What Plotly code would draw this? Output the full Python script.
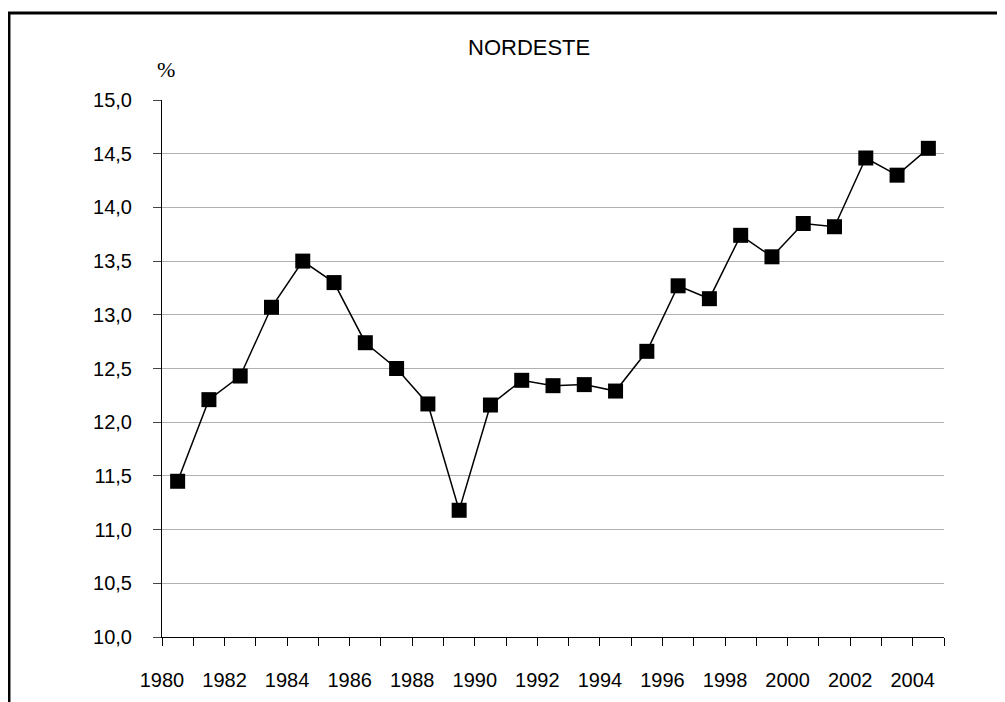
"""NORDESTE: série anual em %, 1980-2004 (Plotly, saída out.html)."""

import plotly.graph_objects as go

# dados
years = list(range(1980, 2005))
values = [
    11.45, 12.21, 12.43, 13.07, 13.50, 13.30, 12.74, 12.50, 12.17, 11.18,
    12.16, 12.39, 12.34, 12.35, 12.29, 12.66, 13.27, 13.15, 13.74, 13.54,
    13.85, 13.82, 14.46, 14.30, 14.55,
]
tick_years = list(range(1980, 2006))
tick_text = [str(y) if (y % 2 == 0 and y <= 2004) else "" for y in tick_years]
y_ticks = [10.0, 10.5, 11.0, 11.5, 12.0, 12.5, 13.0, 13.5, 14.0, 14.5, 15.0]

TXT = "Liberation Sans, Arial, sans-serif"

# pontos no centro de cada categoria (ano + 0,5)
x_pts = [y + 0.5 for y in years]

fig = go.Figure()
fig.add_trace(
    go.Scatter(
        x=x_pts,
        y=values,
        mode="lines+markers",
        line=dict(color="black", width=1.5),
        marker=dict(symbol="square", size=15, color="black"),
        showlegend=False,
        hoverinfo="x+y",
    )
)

# o body da página tem 8px de margem: figura 997x694
fig.update_layout(
    width=997,
    height=694,
    margin=dict(l=154, r=61, t=92, b=65),
    paper_bgcolor="white",
    plot_bgcolor="white",
    separators=",.",
    font=dict(family=TXT, size=20, color="black"),
    xaxis=dict(
        range=[1980, 2005],
        tickmode="array",
        tickvals=tick_years,
        ticktext=tick_text,
        ticks="outside",
        ticklen=8,
        tickcolor="black",
        tickwidth=1,
        showgrid=False,
        zeroline=False,
        showline=True,
        linecolor="black",
        linewidth=1,
        ticklabelstandoff=17,
        tickfont=dict(family=TXT, size=20),
    ),
    yaxis=dict(
        range=[10, 15],
        tickmode="array",
        tickvals=y_ticks,
        tickformat=".1f",
        ticks="outside",
        ticklen=8,
        tickcolor="#444444",
        tickwidth=1,
        showgrid=True,
        gridcolor="#b0b0b0",
        gridwidth=1,
        zeroline=False,
        showline=True,
        linecolor="black",
        linewidth=1,
        ticklabelstandoff=17,
        tickfont=dict(family=TXT, size=20),
    ),
    annotations=[
        dict(
            text="NORDESTE",
            xref="paper", yref="paper",
            x=0.469, y=1.097,
            xanchor="center", yanchor="middle",
            showarrow=False,
            font=dict(family=TXT, size=22),
        ),
        dict(
            text="%",
            xref="paper", yref="paper",
            x=0.005, y=1.056,
            xanchor="center", yanchor="middle",
            showarrow=False,
            font=dict(family="Liberation Serif, Times New Roman, serif", size=22),
        ),
    ],
    shapes=[
        dict(
            type="rect",
            xref="paper", yref="paper",
            x0=-0.1957, x1=1.3, y0=-0.4, y1=1.162,
            line=dict(color="black", width=3),
            fillcolor="rgba(0,0,0,0)",
            layer="below",
        )
    ],
)

fig.write_html("out.html")
